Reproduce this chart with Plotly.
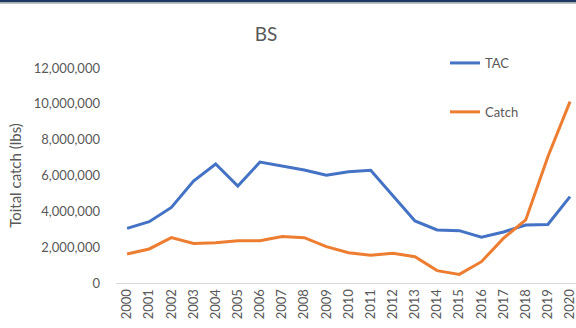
import plotly.graph_objects as go

# Annual values, 2000-2020
years = list(range(2000, 2021))
tac = [3050000, 3420000, 4220000, 5690000, 6640000, 5410000, 6750000, 6550000,
       6310000, 6010000, 6210000, 6290000, 4900000, 3460000, 2960000, 2920000,
       2550000, 2850000, 3240000, 3270000, 4820000]
catch = [1620000, 1900000, 2530000, 2210000, 2250000, 2360000, 2360000, 2600000,
         2530000, 2030000, 1690000, 1550000, 1660000, 1470000, 690000, 480000,
         1190000, 2500000, 3520000, 7050000, 10120000]
y_ticks = [0, 2000000, 4000000, 6000000, 8000000, 10000000, 12000000]
y_tick_text = ["0", "2,000,000", "4,000,000", "6,000,000", "8,000,000",
               "10,000,000", "12,000,000"]

W, H = 576, 328
M_L, M_R, M_T, M_B = 116, 0, 68, 45
plot_h = H - M_T - M_B

def py(px_from_top):
    """Convert a pixel row of the page into paper y coordinates."""
    return 1 + (M_T - px_from_top) / plot_h

grey = "#595959"
font = "Lato, 'Open Sans', sans-serif"

fig = go.Figure()
fig.add_trace(go.Scatter(x=years, y=tac, mode="lines", name="TAC",
                         legendgroup="a",
                         line=dict(color="#4472c4", width=3)))
fig.add_trace(go.Scatter(x=years, y=catch, mode="lines", name="Catch",
                         legendgroup="b",
                         line=dict(color="#ed7d31", width=3)))

fig.update_layout(
    width=W, height=H,
    margin=dict(l=M_L, r=M_R, t=M_T, b=M_B),
    paper_bgcolor="white", plot_bgcolor="white",
    font=dict(family=font, size=13, color=grey),
    title=dict(text="BS", x=266 / W, xanchor="center", xref="container",
               y=1 - 34 / H, yanchor="middle", yref="container",
               font=dict(family=font, size=19, color=grey)),
    showlegend=True,
    legend=dict(x=(445 - M_L) / (W - M_L), xanchor="left",
                y=py(48), yanchor="top",
                bgcolor="rgba(0,0,0,0)", tracegroupgap=29,
                font=dict(family=font, size=13, color=grey)),
    xaxis=dict(range=[1999.5, 2020.27], tickmode="array", tickvals=years,
               ticktext=[str(y) for y in years], tickangle=-90,
               ticklabeloverflow="allow",
               showgrid=False, zeroline=False, showline=True,
               linecolor="#d9d9d9", linewidth=1, ticks="",
               tickfont=dict(family=font, size=13, color=grey)),
    yaxis=dict(range=[0, 12000000], tickmode="array", tickvals=y_ticks,
               ticktext=y_tick_text, showgrid=False, zeroline=False,
               showline=False, ticks="", ticklabelstandoff=15,
               tickfont=dict(family=font, size=13, color=grey),
               title=dict(text="Toital catch (lbs)", standoff=8,
                          font=dict(family=font, size=15, color=grey))),
    shapes=[
        dict(type="rect", xref="paper", yref="paper", x0=-M_L / (W - M_L), x1=1,
             y0=py(2.5), y1=py(0), fillcolor="#1f3864", line=dict(width=0),
             layer="above"),
        dict(type="rect", xref="paper", yref="paper", x0=-M_L / (W - M_L), x1=1,
             y0=py(4), y1=py(2.5), fillcolor="#bfbfbf", line=dict(width=0),
             layer="above"),
    ],
)

fig.write_html("out.html")
